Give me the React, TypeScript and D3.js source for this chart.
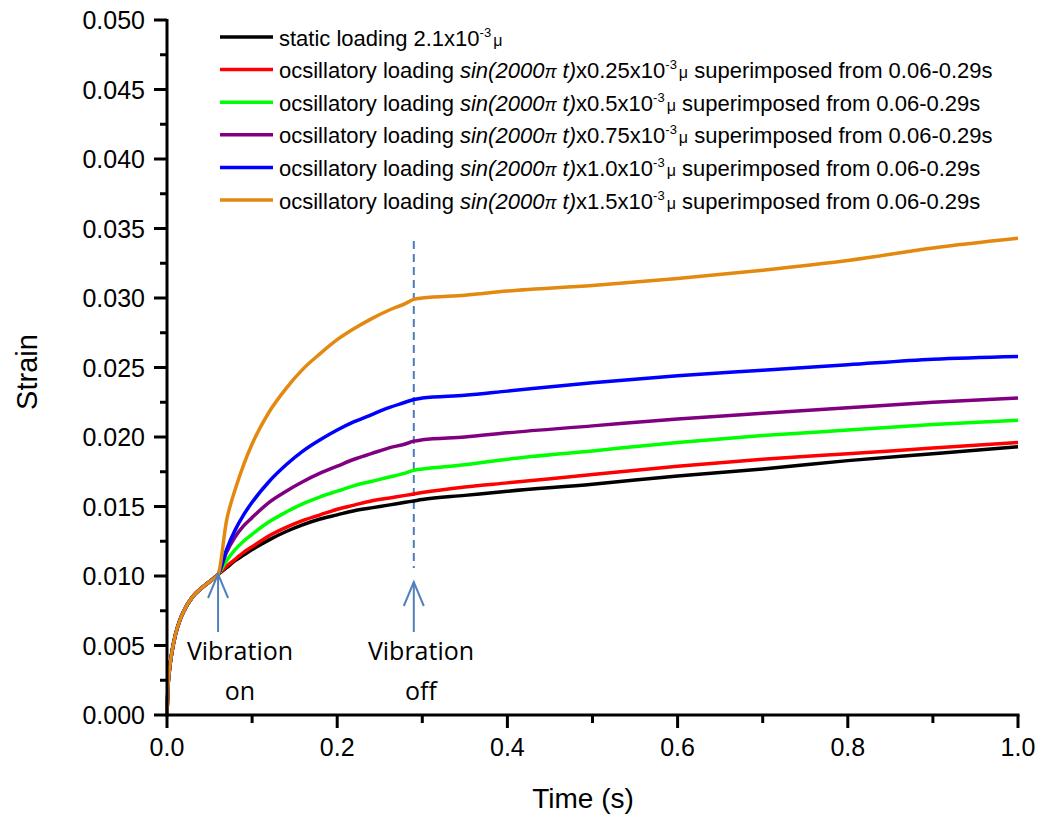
import React from "react";
import * as d3 from "d3";

// ---- data ----
const earlyTime = [0, 0.001, 0.003, 0.006, 0.01, 0.015, 0.02, 0.03, 0.04, 0.05, 0.06];
const earlyStrain = [0, 0.0018, 0.0033, 0.0046, 0.0058, 0.0068, 0.0075, 0.0085, 0.0091, 0.0096, 0.0101];

const laterTime = [0.07, 0.08, 0.09, 0.1, 0.12, 0.14, 0.16, 0.18, 0.2, 0.22, 0.24, 0.26, 0.28, 0.29, 0.3, 0.35, 0.4, 0.5, 0.6, 0.7, 0.8, 0.9, 1.0];

const staticStrain = [0.0106, 0.0111, 0.0115, 0.0119, 0.0126, 0.0132, 0.0137, 0.0141, 0.0144, 0.0147, 0.0149, 0.0151, 0.0153, 0.0154, 0.0155, 0.0158, 0.0161, 0.0166, 0.0172, 0.0177, 0.0183, 0.0188, 0.0193];
const osc025Strain = [0.0107, 0.0112, 0.0117, 0.0121, 0.0129, 0.0135, 0.014, 0.0144, 0.0148, 0.0151, 0.0154, 0.0156, 0.0158, 0.0159, 0.016, 0.0164, 0.0167, 0.0173, 0.0179, 0.0184, 0.0188, 0.0192, 0.0196];
const osc05Strain = [0.0111, 0.0119, 0.0125, 0.013, 0.0139, 0.0146, 0.0152, 0.0157, 0.0161, 0.0165, 0.0168, 0.0171, 0.0174, 0.0176, 0.0177, 0.018, 0.0184, 0.019, 0.0196, 0.0201, 0.0205, 0.0209, 0.0212];
const osc075Strain = [0.0117, 0.0128, 0.0136, 0.0142, 0.0153, 0.0161, 0.0168, 0.0174, 0.0179, 0.0184, 0.0188, 0.0192, 0.0195, 0.0197, 0.0198, 0.02, 0.0203, 0.0208, 0.0213, 0.0217, 0.0221, 0.0225, 0.0228];
const osc10Strain = [0.0119, 0.0133, 0.0144, 0.0153, 0.0168, 0.018, 0.019, 0.0198, 0.0205, 0.0211, 0.0216, 0.0221, 0.0225, 0.0227, 0.0228, 0.023, 0.0233, 0.0239, 0.0244, 0.0248, 0.0252, 0.0256, 0.0258];
const osc15Strain = [0.014, 0.0162, 0.018, 0.0195, 0.0218, 0.0235, 0.0249, 0.026, 0.027, 0.0278, 0.0285, 0.0291, 0.0296, 0.0299, 0.03, 0.0302, 0.0305, 0.0309, 0.0314, 0.032, 0.0327, 0.0336, 0.0343];

const amplitudes = ["0.25", "0.5", "0.75", "1.0", "1.5"];
const seriesColors = ["#000000", "#ff0000", "#00ff00", "#800080", "#0000ff", "#e3890f"];

const xTicks = [0, 0.2, 0.4, 0.6, 0.8, 1.0];
const yTicks = [0, 0.005, 0.01, 0.015, 0.02, 0.025, 0.03, 0.035, 0.04, 0.045, 0.05];
const vibrationOn = 0.06;
const vibrationOff = 0.29;

const FONT = "'Liberation Sans', Arial, sans-serif";

export default function App() {
  const x = d3.scaleLinear().domain([0, 1]).range([167, 1018]);
  const y = d3.scaleLinear().domain([0, 0.05]).range([715, 20]);

  const allStrains = [staticStrain, osc025Strain, osc05Strain, osc075Strain, osc10Strain, osc15Strain];
  const times = earlyTime.concat(laterTime);
  const line = d3
    .line<[number, number]>()
    .x((d) => x(d[0]))
    .y((d) => y(d[1]))
    .curve(d3.curveMonotoneX);

  const paths = allStrains.map((s) => line(times.map((t, i) => [t, earlyStrain.concat(s)[i]] as [number, number])) || "");

  const xMinor = d3.range(0.1, 1.0, 0.2);
  const yMinor = d3.range(0.0025, 0.05, 0.005);

  const legendX0 = 220;
  const legendX1 = 273;
  const legendRow = (i: number) => 37 + i * 32.6;

  const arrowColor = "#4f81bd";

  const arrow = (xv: number, tipY: number, key: string) => {
    const ax = x(xv);
    return (
      <g key={key} stroke={arrowColor} strokeWidth={2} fill="none">
        <line x1={ax} x2={ax} y1={tipY} y2={632} />
        <polyline points={`${ax - 10},${tipY + 24} ${ax},${tipY} ${ax + 10},${tipY + 24}`} />
      </g>
    );
  };

  return (
    <svg
      width={1044}
      height={819}
      style={{ position: "absolute", left: 0, top: 0, background: "#fff" }}
      fontFamily={FONT}
    >
      {/* dashed vibration-off line */}
      <line
        x1={x(vibrationOff)}
        x2={x(vibrationOff)}
        y1={241}
        y2={568}
        stroke="#4a7ebb"
        strokeWidth={2}
        strokeDasharray="8,5"
      />

      {/* series lines */}
      {paths.map((d, i) => (
        <path key={i} d={d} fill="none" stroke={seriesColors[i]} strokeWidth={3.5} strokeLinejoin="round" />
      ))}

      {/* axes */}
      <g stroke="#000" strokeWidth={3} fill="none">
        <line x1={x(0)} x2={x(0)} y1={y(0.05) - 1} y2={y(0) + 1.5} />
        <line x1={x(0) - 1.5} x2={x(1) + 1.5} y1={y(0)} y2={y(0)} />
        {yTicks.map((t) => (
          <line key={"ym" + t} x1={x(0) - 13} x2={x(0)} y1={y(t)} y2={y(t)} />
        ))}
        {yMinor.map((t) => (
          <line key={"yn" + t} x1={x(0) - 7} x2={x(0)} y1={y(t)} y2={y(t)} />
        ))}
        {xTicks.map((t) => (
          <line key={"xm" + t} x1={x(t)} x2={x(t)} y1={y(0)} y2={y(0) + 13} />
        ))}
        {xMinor.map((t) => (
          <line key={"xn" + t} x1={x(t)} x2={x(t)} y1={y(0)} y2={y(0) + 8} />
        ))}
      </g>
      <g fontSize={25} fill="#000">
        {yTicks.map((t) => (
          <text key={"yl" + t} x={145} y={y(t) + 9} textAnchor="end">
            {d3.format(".3f")(t)}
          </text>
        ))}
        {xTicks.map((t) => (
          <text key={"xl" + t} x={x(t)} y={756} textAnchor="middle">
            {d3.format(".1f")(t)}
          </text>
        ))}
      </g>
      <text x={583} y={808} textAnchor="middle" fontSize={28}>
        Time (s)
      </text>
      <text transform={`translate(37,372) rotate(-90)`} textAnchor="middle" fontSize={29}>
        Strain
      </text>

      {/* legend */}
      <g fontSize={22}>
        {seriesColors.map((c, i) => (
          <line key={"ll" + i} x1={legendX0} x2={legendX1} y1={legendRow(i)} y2={legendRow(i)} stroke={c} strokeWidth={3.5} />
        ))}
        <text x={279} y={legendRow(0) + 8.5}>
          static loading 2.1x10
          <tspan fontSize={13} dy={-9}>-3</tspan>
          <tspan fontSize={16} dy={9} dx={2}>μ</tspan>
        </text>
        {amplitudes.map((a, k) => (
          <text key={"lt" + k} x={279} y={legendRow(k + 1) + 8.5}>
            {"ocsillatory loading "}
            <tspan fontStyle="italic">sin(2000</tspan>
            <tspan fontStyle="italic" fontSize={18}>π</tspan>
            <tspan fontStyle="italic">{" t)"}</tspan>
            {"x" + a + "x10"}
            <tspan fontSize={13} dy={-9}>-3</tspan>
            <tspan fontSize={16} dy={9} dx={2}>μ</tspan>
            <tspan>{" superimposed from 0.06-0.29s"}</tspan>
          </text>
        ))}
      </g>

      {/* annotations */}
      {arrow(vibrationOn, 574, "aon")}
      {arrow(vibrationOff, 582, "aoff")}
      <g fontFamily="'Open Sans', sans-serif" fontSize={25} fill="#000" textAnchor="middle">
        <text x={240} y={660}>Vibration</text>
        <text x={240} y={700}>on</text>
        <text x={421} y={660}>Vibration</text>
        <text x={421} y={700}>off</text>
      </g>
    </svg>
  );
}
